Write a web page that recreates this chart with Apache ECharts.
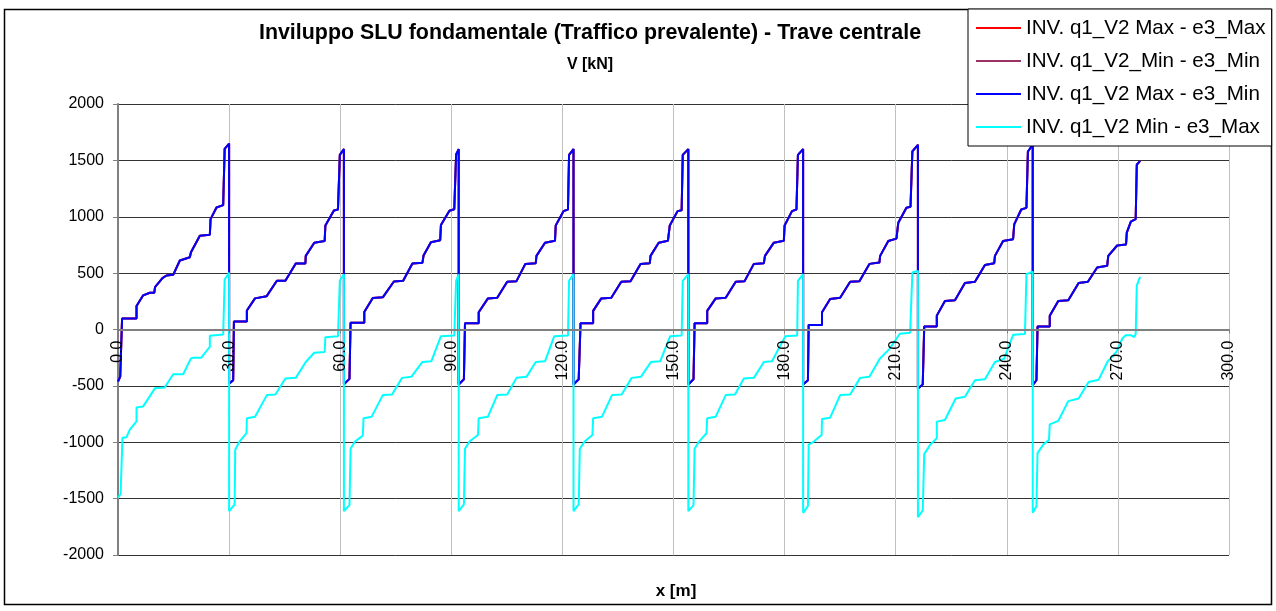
<!DOCTYPE html>
<html>
<head>
<meta charset="utf-8">
<script src="https://cdn.jsdelivr.net/npm/echarts@6/dist/echarts.min.js"></script>
<style>
  html, body { margin: 0; padding: 0; background: #fff; }
  #chart { width: 1276px; height: 611px; }
</style>
</head>
<body>
<div id="chart"></div>
<script>
// legend names, in drawing order
const names = [
  'INV. q1_V2 Max - e3_Max',
  'INV. q1_V2_Min - e3_Min',
  'INV. q1_V2 Max - e3_Min',
  'INV. q1_V2 Min - e3_Max'
]
const colors = ['#ff0000', '#993366', '#0000ff', '#00ffff']

// envelope of max shear, [x (m), V (kN)], one span per line
const envMax = [
  [0,-462],[0.6,-417],[1.1,97],[5.0,97],[5.0,209],[6.8,303],[7.1,312],[8.6,326],[9.8,326],[10.0,376],[12.0,456],[13.1,479],[14.9,485],[16.7,612],[19.4,641],[19.7,685],[22.1,832],[24.8,841],[25.0,979],[26.6,1082],[28.4,1103],[28.8,1602],[30.0,1649],
  [30,-480],[31.1,-450],[31.3,70],[34.8,70],[34.8,168],[37.0,276],[40.1,294],[42.9,432],[45.2,432],[48.0,585],[50.6,585],[50.7,653],[53.0,770],[55.8,785],[56.0,923],[58.3,1055],[59.4,1064],[59.9,1549],[61,1600],
  [61,-485],[62.5,-438],[62.8,59],[66.5,59],[66.5,156],[68.8,279],[71.5,285],[74.5,426],[77.0,432],[79.5,585],[82.2,591],[82.5,656],[84.5,773],[87.0,791],[87.2,926],[89.5,1053],[90.8,1067],[91.3,1552],[92,1600],
  [92,-488],[93.4,-441],[93.7,56],[97.4,56],[97.4,153],[99.9,276],[102.4,282],[105.1,423],[107.6,429],[110.0,582],[112.8,588],[113.0,653],[115.3,770],[118.0,788],[118.2,923],[120.3,1050],[121.5,1064],[121.8,1549],[123,1600],
  [123,-488],[124.4,-441],[124.9,56],[128.3,56],[128.3,165],[130.5,276],[133.2,282],[135.9,423],[138.4,429],[141.1,582],[143.6,588],[143.8,653],[146.0,770],[148.5,788],[149.0,923],[151.1,1050],[152.2,1058],[152.5,1549],[154,1600],
  [154,-488],[155.4,-441],[155.7,56],[159.1,56],[159.1,165],[161.4,276],[164.1,282],[166.8,423],[169.2,429],[171.7,582],[174.4,588],[174.7,653],[177.1,770],[179.8,788],[180.0,923],[182.0,1050],[183.2,1064],[183.6,1549],[185,1600],
  [185,-488],[186.3,-450],[186.5,41],[190.1,41],[190.1,153],[192.3,270],[195.0,282],[197.7,423],[200.2,429],[202.9,582],[205.6,594],[205.8,653],[208.0,785],[210.2,806],[210.7,947],[212.9,1079],[214.0,1088],[214.5,1579],[216,1638],
  [216,-523],[217.3,-488],[217.7,26],[221.1,26],[221.1,123],[223.3,253],[226.0,259],[228.7,412],[231.4,423],[234.1,573],[236.6,588],[236.8,653],[239.0,785],[241.7,800],[242.0,932],[243.9,1064],[245.3,1079],[245.7,1579],[247,1638],
  [247,-494],[248.0,-450],[248.3,26],[251.6,26],[251.6,123],[253.9,253],[256.6,259],[259.4,412],[261.9,423],[264.4,550],[267.1,565],[267.4,653],[269.8,745],[272.2,754],[272.4,860],[273.5,956],[274.8,980],[275.1,1461],[276,1495]
]

// envelope of min shear, [x (m), V (kN)], one span per line
const envMin = [
  [0,-1491],[0.7,-1461],[1.2,-961],[2.3,-955],[3.2,-888],[5.0,-814],[5.0,-691],[6.8,-682],[10.0,-520],[12.6,-514],[14.9,-397],[17.6,-397],[19.7,-256],[20.3,-250],[22.5,-250],[24.8,-153],[24.8,-56],[28.4,-44],[28.8,444],[30.0,503],
  [30,-1611],[31.5,-1552],[31.65,-1067],[32.8,-994],[34.7,-920],[34.8,-788],[37.0,-773],[40.2,-582],[42.5,-576],[45.2,-435],[48.0,-429],[50.7,-288],[53.0,-206],[55.8,-200],[56.0,-68],[59.4,-59],[59.9,432],[61,490],
  [61,-1611],[62.5,-1558],[62.8,-1058],[64.0,-994],[66.1,-941],[66.3,-788],[68.5,-773],[71.5,-582],[74.0,-576],[76.7,-429],[79.2,-420],[82.2,-288],[84.6,-282],[87.2,-59],[90.8,-53],[91.3,432],[92,490],
  [92,-1611],[93.4,-1552],[93.7,-1058],[94.9,-994],[97.2,-935],[97.4,-788],[99.9,-773],[102.4,-582],[105.1,-576],[107.6,-429],[110.3,-420],[112.8,-288],[115.3,-282],[117.8,-59],[121.5,-53],[121.8,432],[123,491],
  [123,-1611],[124.4,-1552],[124.7,-1058],[126.0,-994],[128.1,-935],[128.3,-788],[130.7,-773],[133.4,-582],[136.0,-576],[138.7,-429],[141.2,-420],[143.9,-288],[146.4,-282],[149.1,-59],[152.2,-53],[152.5,432],[154,491],
  [154,-1611],[155.4,-1558],[155.7,-1058],[156.9,-994],[158.9,-920],[159.1,-788],[161.4,-773],[164.1,-582],[166.6,-576],[169.0,-435],[171.7,-429],[174.4,-288],[176.6,-282],[180.2,-59],[183.4,-53],[183.6,432],[185,491],
  [185,-1626],[186.3,-1567],[186.5,-1020],[187.9,-994],[190.0,-935],[190.1,-794],[192.3,-782],[195.0,-582],[197.7,-576],[200.4,-429],[202.9,-420],[205.7,-259],[208.4,-170],[211.1,-38],[213.9,-29],[214.5,506],[216,520],
  [216,-1664],[217.3,-1605],[217.7,-1105],[219.3,-1023],[221.1,-964],[221.1,-817],[223.3,-803],[226.2,-612],[228.7,-597],[231.4,-450],[234.1,-441],[236.8,-288],[239.3,-259],[241.7,-47],[244.9,-41],[245.3,491],[247,512],
  [247,-1626],[248.0,-1567],[248.3,-1096],[249.8,-1023],[251.4,-979],[251.6,-841],[253.9,-811],[256.6,-635],[259.4,-612],[262.1,-465],[264.8,-445],[267.3,-280],[269.6,-200],[271.2,-80],[272.1,-50],[273.5,-50],[274.4,-68],[274.8,-40],[275.1,392],[276,466]
]

// which envelope each legend entry draws
const seriesData = [envMax, envMax, envMax, envMin]

const font = 'Liberation Sans, Arial, sans-serif'
const chart = echarts.init(document.getElementById('chart'))

const gridTop = 104
const gridBottom = 56
const plotH = 611 - gridTop - gridBottom

const option = {
  animation: false,
  backgroundColor: '#fff',
  graphic: [
    {
      type: 'rect',
      shape: { x: 4.5, y: 9.5, width: 1267, height: 595 },
      style: { fill: 'none', stroke: '#000', lineWidth: 1.5 },
      z: -10
    },
    {
      type: 'text', x: 590, y: 33,
      style: { text: 'Inviluppo SLU fondamentale (Traffico prevalente) - Trave centrale', font: 'bold 21.4px ' + font, fill: '#000', align: 'center', verticalAlign: 'middle' }
    },
    {
      type: 'text', x: 590, y: 65,
      style: { text: 'V [kN]', font: 'bold 16px ' + font, fill: '#000', align: 'center', verticalAlign: 'middle' }
    },
    {
      type: 'text', x: 676, y: 591,
      style: { text: 'x [m]', font: 'bold 17px ' + font, fill: '#000', align: 'center', verticalAlign: 'middle' }
    }
  ],
  legend: {
    orient: 'vertical',
    left: 968,
    top: 9,
    padding: [8, 6, 8, 8],
    itemGap: 11,
    itemWidth: 45,
    itemHeight: 2,
    icon: 'rect',
    backgroundColor: '#fff',
    borderColor: '#000',
    borderWidth: 1,
    textStyle: { fontSize: 20.6, fontFamily: font, color: '#000', lineHeight: 22 },
    data: names
  },
  grid: { left: 118, right: 47, top: gridTop, bottom: gridBottom },
  xAxis: [
    {
      // grid lines only, under the series
      type: 'value',
      min: 0,
      max: 300,
      interval: 30,
      axisLine: { show: false },
      axisTick: { show: false },
      axisLabel: { show: false },
      splitLine: { show: true, lineStyle: { color: '#c0c0c0', width: 1 } }
    },
    {
      // the visible axis, shifted up to V = 0 and drawn above the lines
      type: 'value',
      min: 0,
      max: 300,
      interval: 30,
      position: 'bottom',
      offset: -plotH / 2,
      z: 5,
      axisLine: { show: true, onZero: false, lineStyle: { color: '#808080', width: 2 } },
      axisTick: { show: true, length: 4, lineStyle: { color: '#808080' } },
      axisLabel: {
        rotate: 90,
        margin: 11,
        fontSize: 16,
        fontFamily: font,
        color: '#000',
        formatter: (v) => v.toFixed(1)
      },
      splitLine: { show: false }
    }
  ],
  yAxis: {
    type: 'value',
    min: -2000,
    max: 2000,
    interval: 500,
    axisLine: { show: true, onZero: false, lineStyle: { color: '#808080', width: 2 } },
    axisTick: { show: true, length: 5, lineStyle: { color: '#808080' } },
    axisLabel: { fontSize: 16, fontFamily: font, color: '#000', margin: 14, formatter: (v) => String(v) },
    splitLine: { show: true, lineStyle: { color: '#333', width: 1 } }
  },
  series: names.map((n, i) => ({
    name: n,
    type: 'line',
    xAxisIndex: 0,
    symbol: 'none',
    color: colors[i],
    lineStyle: { color: colors[i], width: 2 },
    data: seriesData[i]
  }))
}

chart.setOption(option)
</script>
</body>
</html>
